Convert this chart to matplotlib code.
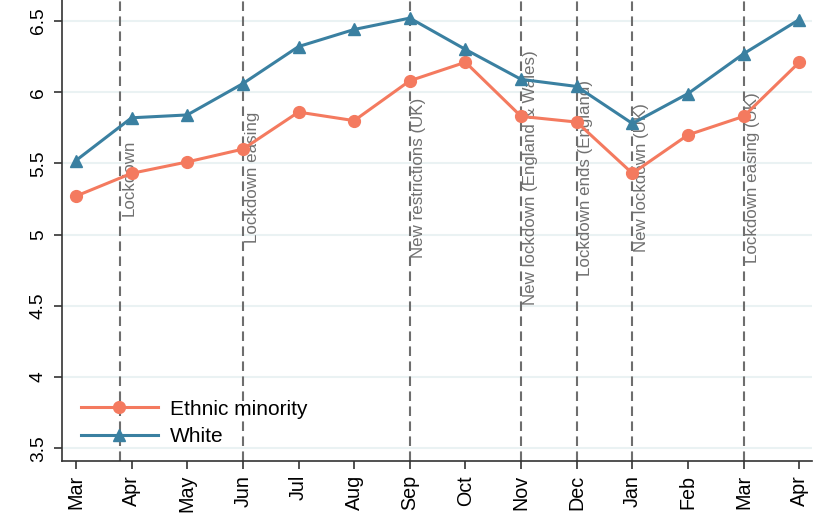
import matplotlib
matplotlib.use("Agg")
import matplotlib.pyplot as plt

months = ["Mar", "Apr", "May", "Jun", "Jul", "Aug", "Sep", "Oct", "Nov", "Dec", "Jan", "Feb", "Mar", "Apr"]
ethnic_minority = [5.27, 5.43, 5.51, 5.60, 5.86, 5.80, 6.08, 6.21, 5.83, 5.79, 5.43, 5.70, 5.83, 6.21]
white = [5.52, 5.82, 5.84, 6.06, 6.32, 6.44, 6.52, 6.30, 6.09, 6.04, 5.78, 5.99, 6.27, 6.51]
event_pos = [0.79, 3, 6, 8, 9, 10, 12]
event_labels = ["Lockdown", "Lockdown easing", "New restrictions (UK)",
                "New lockdown (England & Wales)", "Lockdown ends (England)",
                "New lockdown (UK)", "Lockdown easing (UK)"]
yticks = [3.5, 4, 4.5, 5, 5.5, 6, 6.5]
ytick_labels = ["3.5", "4", "4.5", "5", "5.5", "6", "6.5"]

plt.rcParams['font.family'] = ['Liberation Sans', 'DejaVu Sans']

fig = plt.figure(figsize=(8.27, 5.14), dpi=100)
ax = fig.add_axes([0.075, 0.103, 0.907, 0.897])

x = list(range(len(months)))
for yt in yticks:
    ax.axhline(yt, color="#EAF2F3", lw=1.5, zorder=0)

for xp, lab in zip(event_pos, event_labels):
    ax.axvline(xp, color="#6E6E6E", lw=1.5, dashes=(4.6, 2.6), zorder=1)
    ax.text(xp + 0.03, 5.40, lab, rotation=90, ha="left", va="center",
            color="#707070", fontsize=12.2, zorder=2)

ax.plot(x, ethnic_minority, color="#F47A5F", lw=2.2, marker="o", markersize=8.5,
        label="Ethnic minority", zorder=3)
ax.plot(x, white, color="#3A80A1", lw=2.2, marker="^", markersize=8,
        label="White", zorder=3)

ax.set_xlim(-0.25, 13.23)
ax.set_ylim(3.41, 6.647)
ax.set_xticks(x)
ax.set_xticklabels(months, rotation=90, fontsize=14.2)
ax.set_yticks(yticks)
ax.set_yticklabels(ytick_labels, rotation=90, fontsize=13.8, va="center")
ax.tick_params(axis="both", direction="out", length=6, width=1.2, color="#333333")
ax.tick_params(axis="y", pad=5)
ax.tick_params(axis="x", pad=4)
for s in ["top", "right"]:
    ax.spines[s].set_visible(False)
for s in ["left", "bottom"]:
    ax.spines[s].set_color("#333333")
    ax.spines[s].set_linewidth(1.2)

ax.legend(loc="lower left", bbox_to_anchor=(0.0, -0.008), frameon=False,
          fontsize=15, handlelength=3.7, labelspacing=0.4, handletextpad=0.6)

fig.savefig("out.png", dpi=100)
